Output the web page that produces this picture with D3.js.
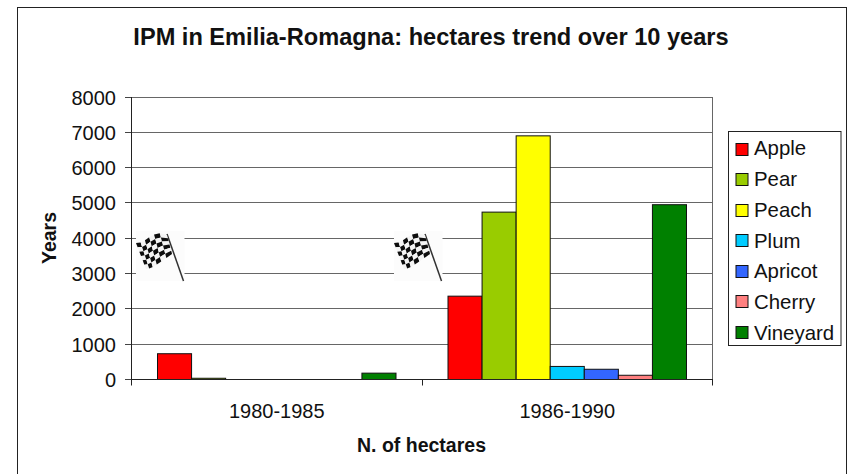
<!DOCTYPE html>
<html><head><meta charset="utf-8">
<script src="https://d3js.org/d3.v7.min.js"></script>
<style>html,body{margin:0;padding:0;background:#fff}svg{display:block}text{font-family:"Liberation Sans",Arial,sans-serif;fill:#111}</style>
</head><body><div id="c"></div>
<script>
const periods=["1980-1985","1986-1990"];
const seriesNames=["Apple","Pear","Peach","Plum","Apricot","Cherry","Vineyard"];
const seriesColors=["#ff0000","#99cc00","#ffff00","#00ccff","#3366ff","#ff8080","#008000"];
const values1980=[730,35,0,0,0,0,180];
const values1986=[2360,4740,6900,370,290,120,4950];
const yTicks=[0,1000,2000,3000,4000,5000,6000,7000,8000];
const W=850,H=474,L=131,R=712,T=97,B=379.5;
const svg=d3.select("#c").append("svg").attr("width",W).attr("height",H);
const defs=svg.append("defs");
defs.append("filter").attr("id","soft").append("feGaussianBlur").attr("stdDeviation",0.5);
svg.append("rect").attr("x",17.5).attr("y",7.5).attr("width",829).attr("height",480).attr("fill","#fff").attr("stroke","#222").attr("stroke-width",1);
const y=d3.scaleLinear().domain([0,8000]).range([B,T]);
const x0=d3.scaleBand().domain(periods).range([L,R]);
const x1=d3.scaleBand().domain(seriesNames).range([26,x0.bandwidth()-26]);
const gy=d=>Math.floor(y(d))+.5;
// gridlines
svg.append("g").selectAll("line").data(yTicks.slice(1)).join("line")
 .attr("x1",L).attr("x2",R).attr("y1",gy).attr("y2",gy).attr("stroke","#666").attr("stroke-width",1);
svg.append("line").attr("x1",R+.5).attr("x2",R+.5).attr("y1",T).attr("y2",B).attr("stroke","#666");
// flags: decoration pasted over the plot
function flag(px,py){
 const g=svg.append("g").attr("transform",`translate(${px},${py})`);
 g.append("rect").attr("width",48.5).attr("height",50).attr("fill","#fcfcfc");
 const s=g.append("g").attr("filter","url(#soft)");
 s.append("path").attr("d","M31 3 L47.5 50").attr("stroke","#333").attr("stroke-width",1.5).attr("fill","none");
 const bez=(p,t)=>{const m=1-t;return [0,1].map(i=>m*m*m*p[0][i]+3*m*m*t*p[1][i]+3*m*t*t*p[2][i]+t*t*t*p[3][i]);};
 const topEdge=[[0,12],[10,14],[15,-3],[31,4]], botEdge=[[10,38],[16,38],[24,31],[36,23]];
 const n=6;
 const pt=(a,b)=>{const p=bez(topEdge,a/n),q=bez(botEdge,a/n),t=b/n;return [p[0]+(q[0]-p[0])*t,p[1]+(q[1]-p[1])*t];};
 for(let a=0;a<n;a++)for(let b=0;b<n;b++){
  const ps=[pt(a,b),pt(a+1,b),pt(a+1,b+1),pt(a,b+1)];
  s.append("path").attr("d","M"+ps.join("L")+"Z").attr("fill",(a+b)%2===0?"#0a0a0a":"#f4f4f4");
 }
}
flag(136,231);flag(394,231);
// bars
[values1980,values1986].forEach((vals,i)=>{
 svg.append("g").selectAll("rect").data(vals.map((v,k)=>({v,k})).filter(d=>d.v>0)).join("rect")
  .attr("x",d=>x0(periods[i])+x1(seriesNames[d.k])+.5)
  .attr("y",d=>y(d.v)).attr("width",x1.bandwidth()).attr("height",d=>B-y(d.v))
  .attr("fill",d=>seriesColors[d.k]).attr("stroke","#111").attr("stroke-width",1);
});
// axes
svg.append("line").attr("x1",L+.5).attr("x2",L+.5).attr("y1",T).attr("y2",B+5.5).attr("stroke","#222");
svg.append("line").attr("x1",L-6).attr("x2",R+1).attr("y1",gy(0)).attr("y2",gy(0)).attr("stroke","#222");
svg.append("g").selectAll("line").data(yTicks).join("line").attr("x1",L-6).attr("x2",L)
 .attr("y1",gy).attr("y2",gy).attr("stroke","#444");
svg.append("g").selectAll("line").data([L,L+x0.bandwidth(),R]).join("line").attr("x1",d=>Math.round(d)+.5).attr("x2",d=>Math.round(d)+.5)
 .attr("y1",B).attr("y2",B+6).attr("stroke","#222");
svg.append("g").selectAll("text").data(yTicks).join("text").attr("x",116).attr("y",d=>y(d)+7.5).attr("text-anchor","end")
 .attr("font-size",20).text(d=>d);
svg.append("g").selectAll("text").data(periods).join("text").attr("x",d=>x0(d)+x0.bandwidth()/2+.5).attr("y",418).attr("text-anchor","middle")
 .attr("font-size",20).text(d=>d);
svg.append("text").attr("x",431).attr("y",45).attr("text-anchor","middle").attr("font-size",23.6).attr("font-weight","bold").text("IPM in Emilia-Romagna: hectares trend over 10 years");
svg.append("text").attr("x",421.5).attr("y",452).attr("text-anchor","middle").attr("font-size",19.5).attr("font-weight","bold").text("N. of hectares");
svg.append("text").attr("transform","translate(55.5,238) rotate(-90)").attr("text-anchor","middle").attr("font-size",19.5).attr("font-weight","bold").text("Years");
// legend
svg.append("rect").attr("x",728.5).attr("y",131.5).attr("width",112.5).attr("height",214).attr("fill","#fff").attr("stroke","#222");
const ly=d3.scalePoint().domain(seriesNames).range([148.7,332]);
const lt=d3.scalePoint().domain(seriesNames).range([155,340]);
svg.append("g").selectAll("rect").data(seriesNames).join("rect").attr("x",736).attr("y",d=>Math.round(ly(d)-6)+.5).attr("width",12).attr("height",12).attr("fill",(d,i)=>seriesColors[i]).attr("stroke","#111");
svg.append("g").selectAll("text").data(seriesNames).join("text").attr("x",754).attr("y",d=>lt(d)).attr("font-size",20.4).text(d=>d);
</script></body></html>
